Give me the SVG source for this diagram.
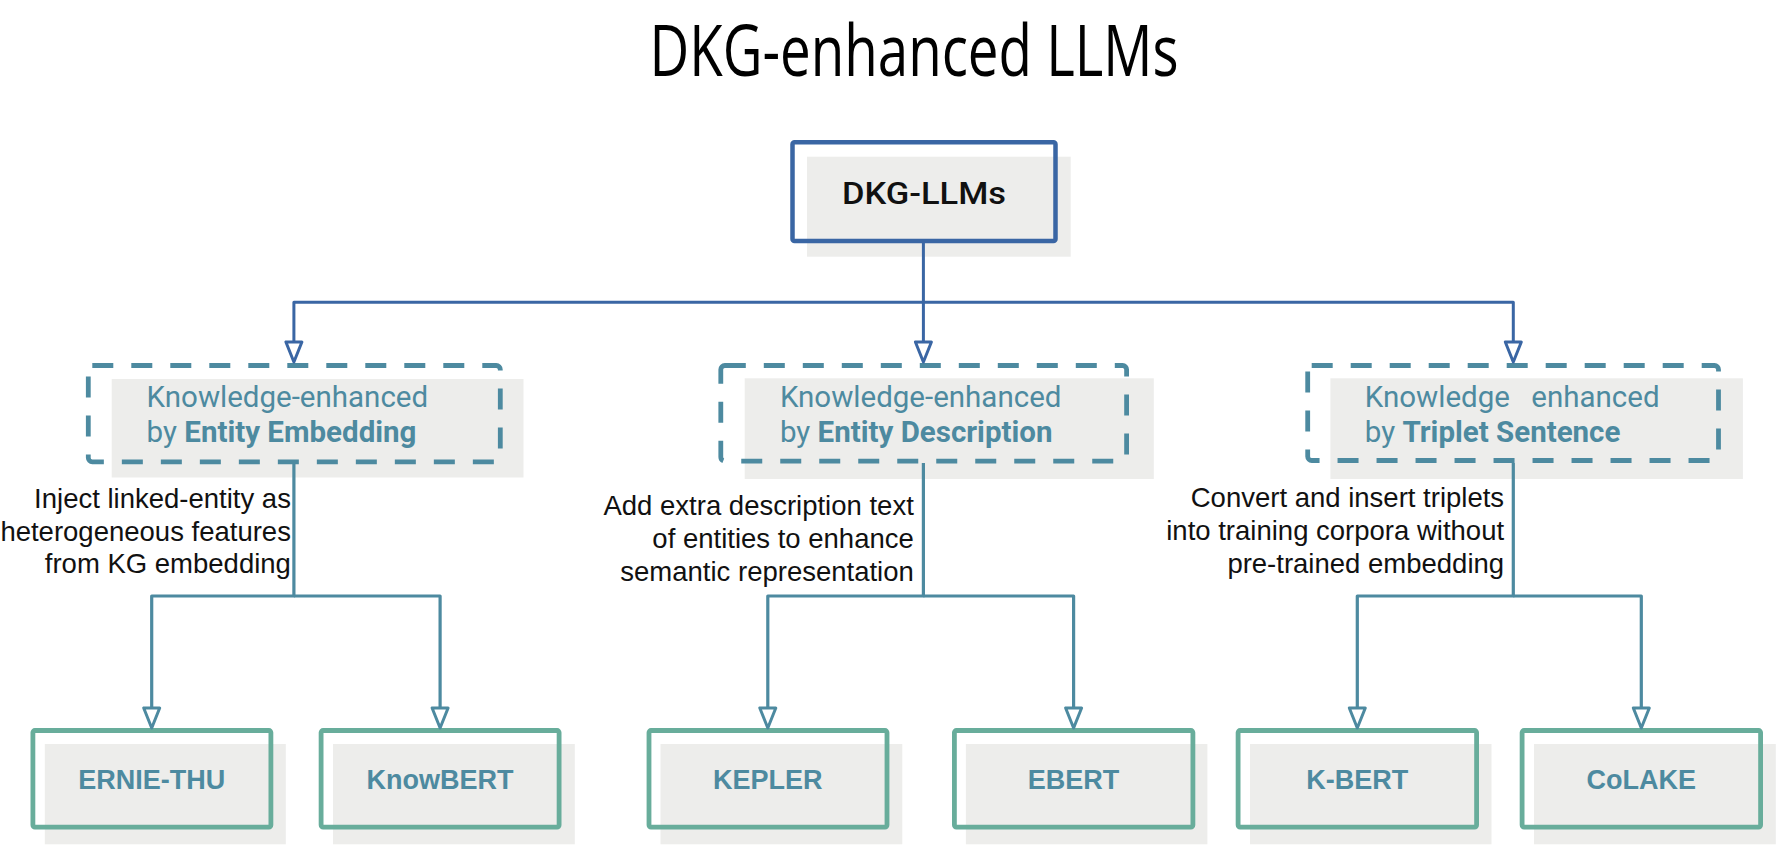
<svg xmlns="http://www.w3.org/2000/svg" width="1788" height="868" viewBox="0 0 1788 868">
<style>
.title{font-family:"Open Sans","Noto Sans",sans-serif;font-size:72px;fill:#000}
.shadow{fill:#ededeb}
.root{fill:none;stroke:#3a66a4;stroke-width:4.5}
.cat{fill:none;stroke:#4d8aa0;stroke-width:4.8;stroke-dasharray:21 18}
.leaf{fill:none;stroke:#68ad9b;stroke-width:4.8}
.rootText{font-family:Roboto,"Noto Sans",sans-serif;font-weight:500;font-size:32px;fill:#111}
.catText{font-family:Roboto,"Noto Sans",sans-serif;font-size:29.5px;fill:#4d8aa0}
.b{font-weight:700}
.leafText{font-family:"Liberation Sans",Arial,sans-serif;font-weight:700;font-size:27px;fill:#4d8aa0;text-anchor:middle}
.lbl{font-family:"Liberation Sans",Arial,sans-serif;font-size:27.5px;fill:#111;text-anchor:end}
.cb{fill:none;stroke:#3a66a4;stroke-width:3;stroke-linejoin:round}
.ct{fill:none;stroke:#4d8aa0;stroke-width:3.2;stroke-linejoin:round}
</style>
<defs>
<marker id="arB" viewBox="-3 -3 26 22" refX="19" refY="8" markerWidth="26" markerHeight="22" markerUnits="userSpaceOnUse" orient="auto" overflow="visible">
<path d="M0,0 L20,8 L0,16 Z" fill="#fff" stroke="#3a66a4" stroke-width="3" stroke-linejoin="round"/>
</marker>
<marker id="arT" viewBox="-3 -3 26 22" refX="19" refY="8" markerWidth="26" markerHeight="22" markerUnits="userSpaceOnUse" orient="auto" overflow="visible">
<path d="M0,0 L20,8 L0,16 Z" fill="#fff" stroke="#4d8aa0" stroke-width="3" stroke-linejoin="round"/>
</marker>
</defs>
<rect width="1788" height="868" fill="#fff"/>
<text class="title" x="914" y="76" text-anchor="middle" textLength="529" lengthAdjust="spacingAndGlyphs">DKG-enhanced LLMs</text>

<g id="root">
<rect class="shadow" x="807" y="156.7" width="263.7" height="100"/>
<rect class="root" x="792.5" y="142.3" width="263" height="98.8" rx="2"/>
<text class="rootText" x="924" y="204" text-anchor="middle" textLength="164" lengthAdjust="spacingAndGlyphs">DKG-LLMs</text>
</g>

<g id="cat-embedding">
<rect class="shadow" x="111.7" y="379" width="411.8" height="98.5"/>
<rect class="cat" x="88.3" y="365.5" width="412" height="96.3" rx="4"/>
<text class="catText" x="146.6" y="406.7">Knowledge-enhanced</text>
<text class="catText" x="146.6" y="441.7">by <tspan class="b">Entity Embedding</tspan></text>
<text class="lbl" x="290.9" y="508.3">Inject linked-entity as</text>
<text class="lbl" x="290.9" y="540.5">heterogeneous features</text>
<text class="lbl" x="290.9" y="573.3">from KG embedding</text>
</g>

<g id="cat-description">
<rect class="shadow" x="744.7" y="378.3" width="409.1" height="100.7"/>
<rect class="cat" x="720.8" y="365.5" width="405.8" height="95.6" rx="4"/>
<text class="catText" x="779.9" y="406.7">Knowledge-enhanced</text>
<text class="catText" x="779.9" y="441.7">by <tspan class="b">Entity Description</tspan></text>
<text class="lbl" x="913.8" y="515">Add extra description text</text>
<text class="lbl" x="913.8" y="548.3">of entities to enhance</text>
<text class="lbl" x="913.8" y="581">semantic representation</text>
</g>

<g id="cat-triplet">
<rect class="shadow" x="1330.4" y="378.3" width="412.5" height="100.7"/>
<rect class="cat" x="1307.7" y="365.5" width="410.8" height="95" rx="4"/>
<text class="catText" y="406.7"><tspan x="1364.8">Knowledge</tspan><tspan x="1531.3">enhanced</tspan></text>
<text class="catText" x="1364.8" y="441.7">by <tspan class="b">Triplet Sentence</tspan></text>
<text class="lbl" x="1504.1" y="507.3">Convert and insert triplets</text>
<text class="lbl" x="1504.1" y="540">into training corpora without</text>
<text class="lbl" x="1504.1" y="573.3">pre-trained embedding</text>
</g>

<g id="leaf-ernie">
<rect class="shadow" x="44.8" y="744" width="241" height="100.3"/>
<rect class="leaf" x="32.9" y="730.5" width="238" height="96.6" rx="2"/>
<text class="leafText" x="151.7" y="789">ERNIE-THU</text>
</g>
<g id="leaf-knowbert">
<rect class="shadow" x="333" y="744" width="241.8" height="100.3"/>
<rect class="leaf" x="321.1" y="730.5" width="238" height="96.6" rx="2"/>
<text class="leafText" x="440.1" y="789">KnowBERT</text>
</g>
<g id="leaf-kepler">
<rect class="shadow" x="660.5" y="744" width="241.8" height="100.3"/>
<rect class="leaf" x="649" y="730.5" width="238" height="96.6" rx="2"/>
<text class="leafText" x="767.8" y="789">KEPLER</text>
</g>
<g id="leaf-ebert">
<rect class="shadow" x="965.9" y="744" width="241.5" height="100.3"/>
<rect class="leaf" x="954.4" y="730.5" width="238.5" height="96.6" rx="2"/>
<text class="leafText" x="1073.6" y="789">EBERT</text>
</g>
<g id="leaf-kbert">
<rect class="shadow" x="1250" y="744" width="241.5" height="100.3"/>
<rect class="leaf" x="1238.1" y="730.5" width="238.5" height="96.6" rx="2"/>
<text class="leafText" x="1357.3" y="789">K-BERT</text>
</g>
<g id="leaf-colake">
<rect class="shadow" x="1534" y="744" width="241.8" height="100.3"/>
<rect class="leaf" x="1522.1" y="730.5" width="238.5" height="96.6" rx="2"/>
<text class="leafText" x="1641.3" y="789">CoLAKE</text>
</g>

<g id="connectors">
<path class="cb" d="M923.4,243 V302.3 H293.9 V361" marker-end="url(#arB)"/>
<path class="cb" d="M923.4,302.3 V361" marker-end="url(#arB)"/>
<path class="cb" d="M923.4,302.3 H1513.3 V361" marker-end="url(#arB)"/>
<path class="ct" d="M293.9,464 V596 H151.7 V727" marker-end="url(#arT)"/>
<path class="ct" d="M293.9,596 H440.1 V727" marker-end="url(#arT)"/>
<path class="ct" d="M923.4,463 V596 H767.8 V727" marker-end="url(#arT)"/>
<path class="ct" d="M923.4,596 H1073.6 V727" marker-end="url(#arT)"/>
<path class="ct" d="M1513.3,463 V596 H1357.3 V727" marker-end="url(#arT)"/>
<path class="ct" d="M1513.3,596 H1641.3 V727" marker-end="url(#arT)"/>
</g>
</svg>
